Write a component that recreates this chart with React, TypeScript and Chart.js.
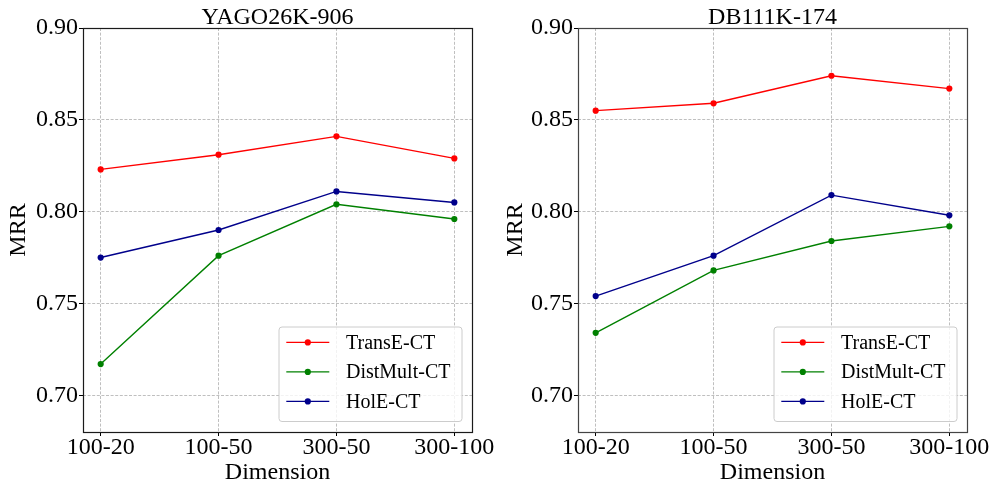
import React, { useEffect, useRef } from 'react';
import { Chart, registerables } from 'chart.js';

Chart.register(...registerables);

// ---- data ----
const dimensions = ['100-20', '100-50', '300-50', '300-100'];
const seriesNames = ['TransE-CT', 'DistMult-CT', 'HolE-CT'];
const seriesColors = ['#ff0000', '#008000', '#00008b'];

const yagoTransE = [0.823, 0.831, 0.841, 0.829];
const yagoDistMult = [0.717, 0.776, 0.804, 0.796];
const yagoHolE = [0.775, 0.790, 0.811, 0.805];

const dbTransE = [0.855, 0.859, 0.874, 0.867];
const dbDistMult = [0.734, 0.768, 0.784, 0.792];
const dbHolE = [0.754, 0.776, 0.809, 0.798];

const yTicks = [0.70, 0.75, 0.80, 0.85, 0.90];
const yMin = 0.68;
const yMax = 0.90;

const FONT = '"Liberation Serif", "Times New Roman", "DejaVu Serif", serif';

type PanelProps = {
  title: string;
  series: number[][];
  width: number;
  height: number;
  axisWidth: number;
  padRight: number;
  frameColor: string;
};

function Panel({ title, series, width, height, axisWidth, padRight, frameColor }: PanelProps) {
  const ref = useRef<HTMLCanvasElement | null>(null);

  useEffect(() => {
    if (!ref.current) return;

    const decor = {
      id: 'decor',
      afterDraw(chart: any) {
        const { ctx, chartArea: a } = chart;
        ctx.save();
        // frame
        ctx.setLineDash([]);
        ctx.strokeStyle = frameColor;
        ctx.lineWidth = 1.2;
        ctx.strokeRect(Math.round(a.left) + 0.5, Math.round(a.top) + 0.5,
          Math.round(a.right) - Math.round(a.left), Math.round(a.bottom) - Math.round(a.top));
        // title
        ctx.fillStyle = '#000';
        ctx.font = `24px ${FONT}`;
        ctx.textAlign = 'center';
        ctx.textBaseline = 'alphabetic';
        ctx.fillText(title, (a.left + a.right) / 2, 23.5);
        // legend
        const bw = 183;
        const bh = 94.5;
        const bx = a.right - 10 - bw;
        const by = a.bottom - 10.5 - bh;
        ctx.beginPath();
        if ((ctx as any).roundRect) (ctx as any).roundRect(bx, by, bw, bh, 3);
        else ctx.rect(bx, by, bw, bh);
        ctx.fillStyle = 'rgba(255,255,255,0.8)';
        ctx.fill();
        ctx.strokeStyle = '#cccccc';
        ctx.lineWidth = 1;
        ctx.stroke();
        seriesNames.forEach((name, i) => {
          const ry = by + 15.4 + i * 29.5;
          const x1 = bx + 7.3;
          const x2 = x1 + 43;
          ctx.strokeStyle = seriesColors[i];
          ctx.lineWidth = 1.4;
          ctx.beginPath();
          ctx.moveTo(x1, ry);
          ctx.lineTo(x2, ry);
          ctx.stroke();
          ctx.fillStyle = seriesColors[i];
          ctx.beginPath();
          ctx.arc((x1 + x2) / 2, ry, 3.1, 0, Math.PI * 2);
          ctx.fill();
          ctx.fillStyle = '#000';
          ctx.font = `20px ${FONT}`;
          ctx.textAlign = 'left';
          ctx.textBaseline = 'middle';
          ctx.fillText(name, bx + 67, ry + 1);
        });
        ctx.restore();
      },
    };

    const datasets = series.map((vals, i) => ({
      label: seriesNames[i],
      data: vals.map((v, j) => ({ x: j, y: v })),
      borderColor: seriesColors[i],
      backgroundColor: seriesColors[i],
      borderWidth: 1.4,
      pointRadius: 3.1,
      pointHoverRadius: 3.1,
      pointBorderWidth: 0,
      tension: 0,
      fill: false,
    }));

    const gridCommon = {
      color: '#b8b8b8',
      lineWidth: 0.9,
      drawTicks: true,
      tickLength: 4,
      tickColor: '#000',
      tickWidth: 1,
      tickBorderDash: [],
    };

    const chart = new Chart(ref.current, {
      type: 'line',
      data: { datasets },
      plugins: [decor],
      options: {
        responsive: false,
        animation: false,
        devicePixelRatio: 1,
        events: [],
        layout: { padding: { top: 28, right: padRight, bottom: 0, left: 0 } },
        plugins: {
          legend: { display: false },
          tooltip: { enabled: false },
          title: { display: false },
        },
        scales: {
          x: {
            type: 'linear',
            bounds: 'data',
            min: -0.15,
            max: 3.15,
            afterBuildTicks: (s: any) => {
              s.ticks = dimensions.map((_, i) => ({ value: i }));
            },
            afterFit: (s: any) => {
              s.height = 61;
              s.paddingLeft = 0;
              s.paddingRight = 0;
            },
            ticks: {
              autoSkip: false,
              maxRotation: 0,
              minRotation: 0,
              padding: 0,
              color: '#000',
              font: { family: FONT, size: 24, lineHeight: 1 },
              callback: (v: any) => dimensions[Math.round(Number(v))] ?? '',
            },
            grid: gridCommon,
            border: { display: false, dash: [3, 1.6] },
            title: {
              display: true,
              text: 'Dimension',
              color: '#000',
              font: { family: FONT, size: 24, lineHeight: 1.2 },
              padding: { top: 0, bottom: 6 },
            },
          },
          y: {
            type: 'linear',
            bounds: 'data',
            min: yMin,
            max: yMax,
            afterBuildTicks: (s: any) => {
              s.ticks = yTicks.map((v) => ({ value: v }));
            },
            afterFit: (s: any) => {
              s.width = axisWidth;
              s.paddingTop = 0;
              s.paddingBottom = 0;
            },
            ticks: {
              padding: 1,
              color: '#000',
              font: { family: FONT, size: 24, lineHeight: 1 },
              callback: (v: any) => Number(v).toFixed(2),
            },
            grid: gridCommon,
            border: { display: false, dash: [3, 1.6] },
            title: {
              display: true,
              text: 'MRR',
              color: '#000',
              font: { family: FONT, size: 24, lineHeight: 1.2 },
              padding: { top: 4, bottom: 0 },
            },
          },
        },
      } as any,
    });

    return () => chart.destroy();
  }, [title, series, width, height, axisWidth, padRight, frameColor]);

  return (
    <canvas
      ref={ref}
      width={width}
      height={height}
      style={{ width: `${width}px`, height: `${height}px`, display: 'block' }}
    />
  );
}

const yagoSeries = [yagoTransE, yagoDistMult, yagoHolE];
const dbSeries = [dbTransE, dbDistMult, dbHolE];

export default function App() {
  return (
    <div style={{ position: 'absolute', left: 0, top: 0, width: 997, height: 493, background: '#fff' }}>
      <div style={{ position: 'absolute', left: 0, top: 0 }}>
        <Panel title="YAGO26K-906" series={yagoSeries} width={497} height={493} axisWidth={83} padRight={25} frameColor="#1a1a1a" />
      </div>
      <div style={{ position: 'absolute', left: 497, top: 0 }}>
        <Panel title="DB111K-174" series={dbSeries} width={500} height={493} axisWidth={81} padRight={30} frameColor="#444444" />
      </div>
    </div>
  );
}
